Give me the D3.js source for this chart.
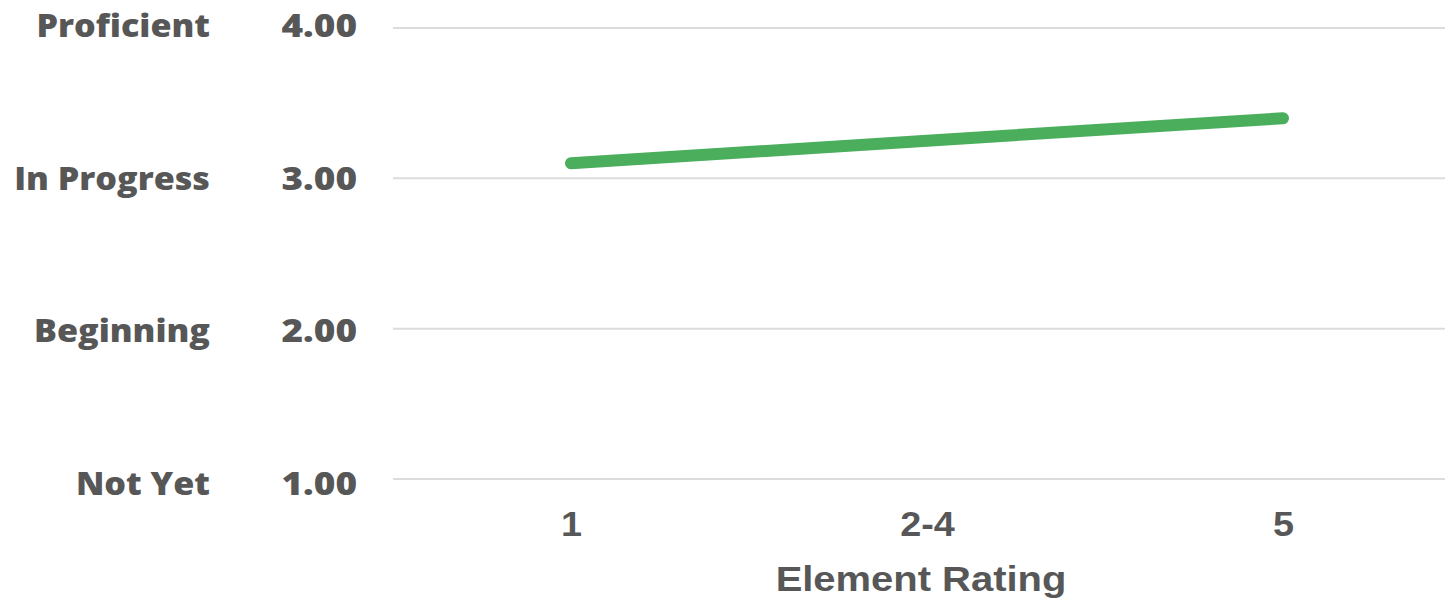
<!DOCTYPE html>
<html>
<head>
<meta charset="utf-8">
<script src="https://cdn.jsdelivr.net/npm/d3@7"></script>
<style>
  html, body { margin: 0; padding: 0; background: #fff; }
  svg { display: block; }
</style>
</head>
<body>
<svg id="chart" width="1445" height="599"></svg>
<script>
// ---- data ----
const categories = ["1", "2-4", "5"];
const values = [3.10, 3.25, 3.40];
const yTicks = [1, 2, 3, 4];
const yTickLabels = ["1.00", "2.00", "3.00", "4.00"];
const levelLabels = ["Not Yet", "Beginning", "In Progress", "Proficient"];
const xTitle = "Element Rating";

// ---- layout ----
const svg = d3.select("#chart");
const textColor = "#575757";

const x = d3.scalePoint().domain(categories).range([393, 1461]).padding(0.5);
const y = d3.scaleLinear().domain([1, 4]).range([479, 28]);
// label baselines are spaced slightly wider than the gridlines in the reference
const yLabel = d3.scaleLinear().domain([1, 4]).range([495, 37]);

// gridlines
svg.append("g")
  .selectAll("line")
  .data(yTicks)
  .join("line")
  .attr("x1", 393).attr("x2", 1461)
  .attr("y1", d => y(d)).attr("y2", d => y(d))
  .attr("stroke", "#dcdcdc")
  .attr("stroke-width", 2);

// y tick labels (numeric)
svg.append("g")
  .selectAll("text")
  .data(yTicks)
  .join("text")
  .attr("transform", d => `translate(357,${yLabel(d)}) scale(1.19,1)`)
  .attr("text-anchor", "end")
  .attr("font-family", "'Open Sans', sans-serif")
  .attr("font-weight", 800)
  .attr("font-size", 31)
  .attr("fill", textColor)
  .text((d, i) => yTickLabels[i]);

// level labels
svg.append("g")
  .selectAll("text")
  .data(yTicks)
  .join("text")
  .attr("transform", d => `translate(210,${yLabel(d)}) scale(1.10,1)`)
  .attr("text-anchor", "end")
  .attr("font-family", "'Open Sans', sans-serif")
  .attr("font-weight", 800)
  .attr("font-size", 31)
  .attr("fill", textColor)
  .text((d, i) => levelLabels[i]);

// x axis tick labels
const xAxis = d3.axisBottom(x).tickSize(0).tickPadding(0);
const gx = svg.append("g").attr("transform", "translate(0,510)").call(xAxis);
gx.select(".domain").remove();
gx.selectAll("text")
  .attr("dy", null)
  .attr("y", 0)
  .attr("transform", "translate(0,26) scale(1.08,1)")
  .attr("font-family", "'Liberation Sans', Arial, sans-serif")
  .attr("font-weight", 700)
  .attr("font-size", 35)
  .attr("fill", textColor);

// x title
svg.append("text")
  .attr("transform", "translate(921,591) scale(1.11,1)")
  .attr("text-anchor", "middle")
  .attr("font-family", "'Liberation Sans', Arial, sans-serif")
  .attr("font-weight", 700)
  .attr("font-size", 36)
  .attr("fill", textColor)
  .text(xTitle);

// line
const line = d3.line()
  .x((d, i) => x(categories[i]))
  .y(d => y(d));

svg.append("path")
  .datum(values)
  .attr("d", line)
  .attr("fill", "none")
  .attr("stroke", "#4aae5c")
  .attr("stroke-width", 12)
  .attr("stroke-linecap", "round")
  .attr("stroke-linejoin", "round");
</script>
</body>
</html>
